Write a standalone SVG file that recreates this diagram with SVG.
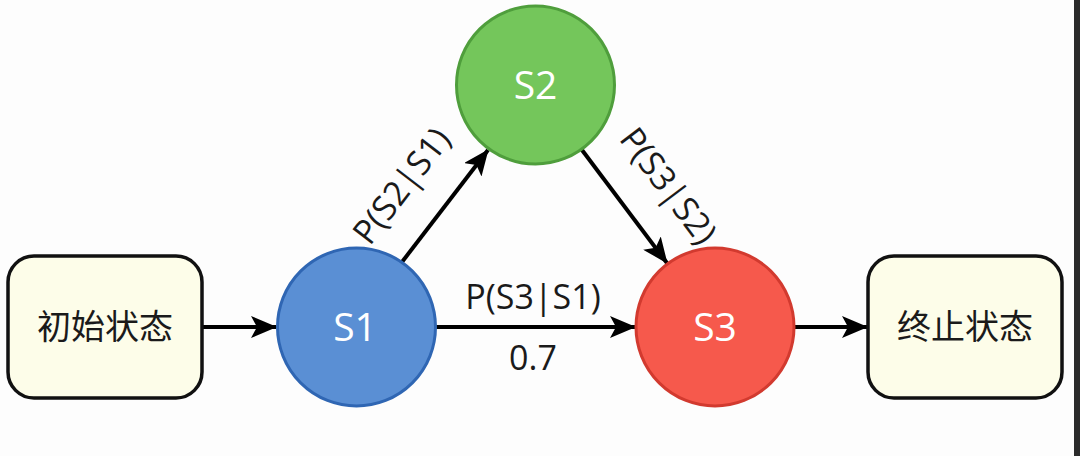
<svg xmlns="http://www.w3.org/2000/svg" width="1080" height="456" viewBox="0 0 1080 456">
<defs>
<style>
.box{fill:#fdfde9;stroke:#111;stroke-width:3.5}
.lbl{font-family:"Open Sans","Noto Sans CJK SC",sans-serif;font-size:34px;fill:#1a1a1a;text-anchor:middle}
.cjk{font-family:"Noto Sans CJK SC",sans-serif;font-size:34px;fill:#1a1a1a;text-anchor:middle}
.st{font-family:"Open Sans",sans-serif;font-size:39px;fill:#fff;text-anchor:middle}
.edge{stroke:#000;stroke-width:4;fill:none;marker-end:url(#ah)}
</style>
<marker id="ah" markerUnits="userSpaceOnUse" markerWidth="26" markerHeight="22" viewBox="0 0 26 22" refX="25" refY="11" orient="auto">
<path d="M0,0 L26,11 L0,22 L6,11 Z" fill="#000"/>
</marker>
</defs>
<rect x="0" y="0" width="1080" height="456" fill="#fdfdfd"/>
<rect x="1074" y="0" width="6" height="456" fill="#2b2b2b"/>
<g id="connectors">
<line class="edge" x1="202" y1="327" x2="276" y2="327"/>
<line class="edge" x1="436" y1="327" x2="635" y2="327"/>
<line class="edge" x1="794" y1="327" x2="867" y2="327"/>
<line class="edge" x1="402" y1="262" x2="488" y2="150"/>
<line class="edge" x1="582" y1="150" x2="667" y2="263"/>
<text class="lbl" x="533" y="309">P(S3|S1)</text>
<text class="lbl" x="533" y="370">0.7</text>
<text class="lbl" transform="translate(403,187) rotate(-52.5)" x="0" y="10">P(S2|S1)</text>
<text class="lbl" transform="translate(667,187) rotate(53)" x="0" y="10">P(S3|S2)</text>
</g>
<g id="start">
<rect class="box" x="8" y="256" width="194" height="142" rx="26"/>
<text class="cjk" x="105" y="339">初始状态</text>
</g>
<g id="s1">
<circle cx="356.5" cy="327" r="79" fill="#5a8fd4" stroke="#2f66b3" stroke-width="3"/>
<text class="st" x="355" y="341">S1</text>
</g>
<g id="s2">
<circle cx="535.5" cy="85" r="79" fill="#74c65b" stroke="#4f9e3c" stroke-width="3"/>
<text class="st" x="535.5" y="99">S2</text>
</g>
<g id="s3">
<circle cx="715" cy="327" r="79" fill="#f6594c" stroke="#d23a2f" stroke-width="3"/>
<text class="st" x="715" y="341">S3</text>
</g>
<g id="end">
<rect class="box" x="868" y="256" width="194" height="142" rx="26"/>
<text class="cjk" x="965" y="339">终止状态</text>
</g>
</svg>
